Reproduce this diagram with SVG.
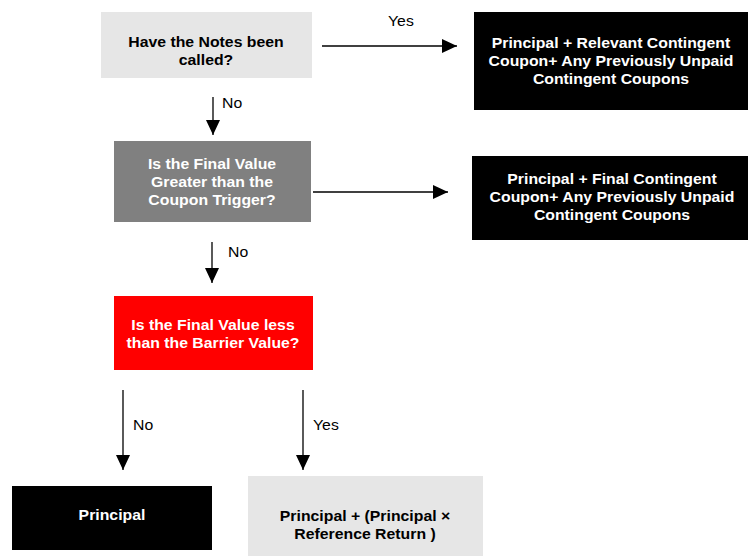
<svg xmlns="http://www.w3.org/2000/svg" width="748" height="556" viewBox="0 0 748 556">
<style>
text{font-family:"Liberation Sans",Arial,sans-serif;font-size:14px}
.b{font-weight:bold;text-anchor:middle}
.k{fill:#000}
.w{fill:#fff}
.lbl{fill:#000;text-anchor:start}
.edge{stroke:#000;stroke-width:1.3;fill:none;marker-end:url(#ah)}
</style>
<defs>
<marker id="ah" markerUnits="userSpaceOnUse" markerWidth="15" markerHeight="14" refX="15" refY="7" orient="auto">
<path d="M0,0 L15,7 L0,14 z" fill="#000"/>
</marker>
</defs>
<rect width="748" height="556" fill="#fff"/>
<g id="connectors">
<line class="edge" x1="322" y1="46" x2="457" y2="46"/>
<line class="edge" x1="213" y1="97" x2="213" y2="135"/>
<line class="edge" x1="313" y1="192" x2="448" y2="192"/>
<line class="edge" x1="212" y1="242" x2="212" y2="283"/>
<line class="edge" x1="123" y1="390" x2="123" y2="470"/>
<line class="edge" x1="303" y1="390" x2="303" y2="470"/>
<text class="lbl" transform="translate(388 0) scale(1.13 1)" y="26">Yes</text>
<text class="lbl" transform="translate(222 0) scale(1.13 1)" y="108">No</text>
<text class="lbl" transform="translate(228 0) scale(1.13 1)" y="257">No</text>
<text class="lbl" transform="translate(133 0) scale(1.13 1)" y="430">No</text>
<text class="lbl" transform="translate(313 0) scale(1.13 1)" y="430">Yes</text>
</g>
<g id="n1">
<rect x="101" y="12" width="211" height="66" fill="#e6e6e6"/>
<text class="b k" transform="translate(206 0) scale(1.13 1)" y="47"><tspan x="0">Have the Notes been</tspan><tspan x="0" y="65">called?</tspan></text>
</g>
<g id="n2">
<rect x="474" y="12" width="276" height="98" fill="#000"/>
<text class="b w" transform="translate(611 0) scale(1.13 1)" y="48"><tspan x="0">Principal + Relevant Contingent</tspan><tspan x="0" y="66">Coupon+ Any Previously Unpaid</tspan><tspan x="0" y="84">Contingent Coupons</tspan></text>
</g>
<g id="n3">
<rect x="114" y="141" width="197" height="81" fill="#808080"/>
<text class="b w" transform="translate(212 0) scale(1.13 1)" y="169"><tspan x="0">Is the Final Value</tspan><tspan x="0" y="187">Greater than the</tspan><tspan x="0" y="205">Coupon Trigger?</tspan></text>
</g>
<g id="n4">
<rect x="472" y="156" width="278" height="84" fill="#000"/>
<text class="b w" transform="translate(612 0) scale(1.13 1)" y="184"><tspan x="0">Principal + Final Contingent</tspan><tspan x="0" y="202">Coupon+ Any Previously Unpaid</tspan><tspan x="0" y="220">Contingent Coupons</tspan></text>
</g>
<g id="n5">
<rect x="114" y="296" width="199" height="74" fill="#ff0000"/>
<text class="b w" transform="translate(213 0) scale(1.13 1)" y="330"><tspan x="0">Is the Final Value less</tspan><tspan x="0" y="348">than the Barrier Value?</tspan></text>
</g>
<g id="n6">
<rect x="12" y="486" width="200" height="64" fill="#000"/>
<text class="b w" transform="translate(112 0) scale(1.13 1)" y="520">Principal</text>
</g>
<g id="n7">
<rect x="248" y="476" width="235" height="82" fill="#e6e6e6"/>
<text class="b k" transform="translate(365 0) scale(1.13 1)" y="521"><tspan x="0">Principal + (Principal ×</tspan><tspan x="0" y="539">Reference Return )</tspan></text>
</g>
</svg>
